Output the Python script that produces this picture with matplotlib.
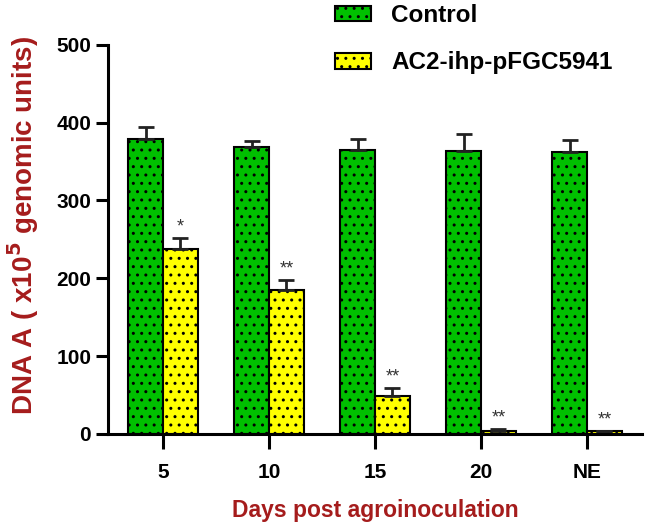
import numpy as np
import matplotlib.pyplot as plt

plt.rcParams['font.family'] = ['Liberation Sans', 'DejaVu Sans']
plt.rcParams['hatch.linewidth'] = 1.0
plt.rcParams['hatch.color'] = '#2b4a2b'

days = ['5', '10', '15', '20', 'NE']
control = [379, 369, 365, 364, 362]
control_err = [16, 8, 14, 22, 16]
ac2 = [238, 185, 49, 4, 3]
ac2_err = [14, 13, 10, 2, 1]
stars = ['*', '**', '**', '**', '**']

red = '#A51C1C'
x = np.arange(len(days))
w = 0.33

fig = plt.figure(figsize=(6.46, 5.29), dpi=100)
ax = fig.add_axes([0.167, 0.18, 0.827, 0.735])

ax.bar(x - w / 2, control, w, color='#00C000', edgecolor='black',
       linewidth=1.5, hatch='..', label='Control')
ax.bar(x + w / 2, ac2, w, color='#FFFF00', edgecolor='black',
       linewidth=1.5, hatch='..', label='AC2-ihp-pFGC5941')
ax.errorbar(x - w / 2, control, yerr=[np.zeros(len(x)), control_err], fmt='none',
            ecolor='#222222', elinewidth=2, capsize=6, capthick=2)
ax.errorbar(x + w / 2, ac2, yerr=[np.zeros(len(x)), ac2_err], fmt='none',
            ecolor='#222222', elinewidth=2, capsize=6, capthick=2)

for i in range(len(x)):
    ax.text(x[i] + w / 2, ac2[i] + ac2_err[i] + 3, stars[i], ha='center',
            va='bottom', fontsize=13, color='#333333')

ax.set_xlim(-0.52, 4.52)
ax.set_ylim(0, 500)
ax.set_yticks([0, 100, 200, 300, 400, 500])
ax.set_xticks(x)
ax.set_xticklabels(days)
ax.spines['top'].set_visible(False)
ax.spines['right'].set_visible(False)
ax.spines['left'].set_linewidth(2.2)
ax.spines['bottom'].set_linewidth(2.2)
ax.tick_params(axis='y', length=9, width=2.2, labelsize=15, pad=3)
ax.tick_params(axis='x', length=11, width=2.2, labelsize=15, pad=10)
for t in ax.get_xticklabels() + ax.get_yticklabels():
    t.set_fontweight('bold')

ax.set_ylabel('DNA A ( x10$^\\mathbf{5}$ genomic units)', fontsize=20,
              fontweight='bold', color=red)
ax.yaxis.set_label_coords(-0.125, 0.535)
ax.set_xlabel('Days post agroinoculation', fontsize=16.5, fontweight='bold',
              color=red, labelpad=12)

fig.legend(loc='upper left', bbox_to_anchor=(335 / 646, 1 - 4 / 529),
           frameon=False, prop={'weight': 'bold', 'size': 17.5},
           handlelength=1.5, handleheight=0.62, labelspacing=1.0,
           handletextpad=0.8, borderpad=0, borderaxespad=0)

fig.savefig('out.png', dpi=100)
